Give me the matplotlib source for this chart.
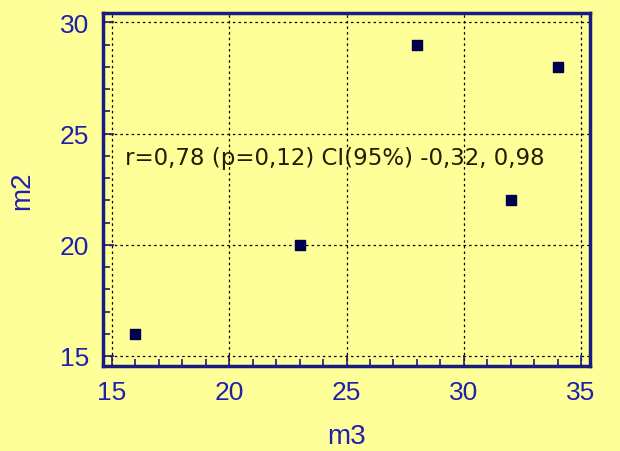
import matplotlib
matplotlib.use("Agg")
import matplotlib.pyplot as plt
from matplotlib.ticker import MultipleLocator

m3 = [16, 23, 28, 32, 34]
m2 = [16, 20, 29, 22, 28]
stats_text = "r=0,78 (p=0,12) CI(95%) -0,32, 0,98"

BG = "#ffff99"
AXIS = "#1a1a80"
LABEL = "#1f1fb0"

plt.rcParams["font.family"] = ["Liberation Sans", "DejaVu Sans"]

fig = plt.figure(figsize=(6.2, 4.52), dpi=100, facecolor=BG)
ax = fig.add_axes([103 / 620, 1 - 367 / 452, (590 - 103) / 620, (367 - 14) / 452])
ax.set_facecolor(BG)

ax.scatter(m3, m2, marker="s", s=55, color="#00004d", zorder=3)

ax.set_xlim(14.62, 35.38)
ax.set_ylim(14.55, 30.42)
ax.xaxis.set_major_locator(MultipleLocator(5))
ax.xaxis.set_minor_locator(MultipleLocator(1))
ax.yaxis.set_major_locator(MultipleLocator(5))
ax.yaxis.set_minor_locator(MultipleLocator(1))

ax.grid(True, which="major", color="black", linestyle=(0, (2, 2.5)), linewidth=0.9)
ax.tick_params(which="major", direction="in", length=8, width=1.2, color=AXIS,
               labelsize=19, labelcolor=LABEL, pad=10)
ax.tick_params(which="minor", direction="in", length=5, width=1.2, color=AXIS)
for s in ax.spines.values():
    s.set_color(AXIS)
    s.set_linewidth(2.5)

ax.set_xlabel("m3", fontsize=20, color=LABEL, labelpad=14)
ax.set_ylabel("m2", fontsize=20, color=LABEL, labelpad=18)

ax.text(15.55, 23.62, stats_text, fontsize=16.5, color="#2a1a00", va="baseline",
        family=["DejaVu Sans"], zorder=4)

fig.savefig("out.png", dpi=100, facecolor=BG)
